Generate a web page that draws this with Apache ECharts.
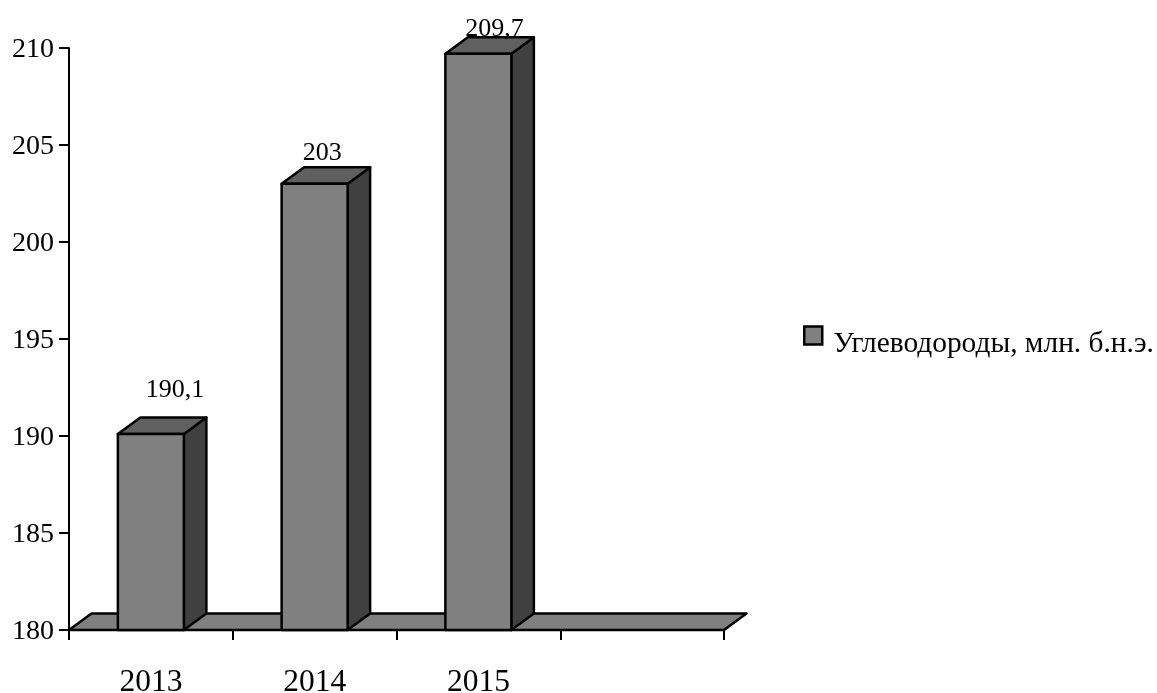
<!DOCTYPE html>
<html>
<head>
<meta charset="utf-8">
<style>html,body{margin:0;padding:0;background:#fff}#chart{width:1157px;height:693px}</style>
<script src="https://cdn.jsdelivr.net/npm/echarts@6/dist/echarts.min.js"></script>
</head>
<body>
<div id="chart"></div>
<script>
// Hydrocarbon output by year; the fourth category slot is intentionally empty.
const categories = ['2013', '2014', '2015', ''];
const seriesName = 'Углеводороды, млн. б.н.э.';
const values = [190.1, 203, 209.7];

const FONT = '"Liberation Serif", "Times New Roman", serif';
const DEPTH_X = 22.5, DEPTH_Y = 16.5;       // oblique projection of the 3D look
const BAR_WIDTH = 66;
const labelShift = [[24, -44], [7.5, -30.5], [16, -25]]; // value label offset from the bar's top centre

const FRONT = '#808080', TOP = '#606060', SIDE = '#404040';
const EDGE = { stroke: '#000', lineWidth: 2.5, lineJoin: 'round' };

function renderFloor(params, api) {
  const cs = params.coordSys;
  const y = api.coord([0, 180])[1];
  const l = cs.x, r = cs.x + cs.width;
  return {
    type: 'polygon',
    shape: { points: [[l, y], [l + DEPTH_X, y - DEPTH_Y], [r + DEPTH_X, y - DEPTH_Y], [r, y]] },
    style: Object.assign({ fill: FRONT }, EDGE)
  };
}

function renderBar(params, api) {
  const top = api.coord([api.value(0), api.value(1)]);
  const base = api.coord([api.value(0), 180]);
  const x0 = top[0] - BAR_WIDTH / 2, x1 = top[0] + BAR_WIDTH / 2;
  const yt = top[1], yb = base[1];
  const shift = labelShift[params.dataIndex];
  return {
    type: 'group',
    children: [
      { type: 'polygon',
        shape: { points: [[x1, yt], [x1 + DEPTH_X, yt - DEPTH_Y], [x1 + DEPTH_X, yb - DEPTH_Y], [x1, yb]] },
        style: Object.assign({ fill: SIDE }, EDGE) },
      { type: 'polygon',
        shape: { points: [[x0, yt], [x0 + DEPTH_X, yt - DEPTH_Y], [x1 + DEPTH_X, yt - DEPTH_Y], [x1, yt]] },
        style: Object.assign({ fill: TOP }, EDGE) },
      { type: 'rect',
        shape: { x: x0, y: yt, width: BAR_WIDTH, height: yb - yt },
        style: Object.assign({ fill: FRONT }, EDGE) },
      { type: 'text',
        x: top[0] + shift[0], y: yt + shift[1],
        style: {
          text: String(api.value(1)).replace('.', ','),
          font: '26px ' + FONT, fill: '#000',
          textAlign: 'center', textVerticalAlign: 'middle'
        } }
    ]
  };
}

const chart = echarts.init(document.getElementById('chart'), null, { renderer: 'canvas' });
chart.setOption({
  animation: false,
  backgroundColor: '#fff',
  grid: { left: 69, top: 48, width: 655, height: 582, containLabel: false, outerBoundsMode: 'none' },
  legend: {
    data: [seriesName],
    left: 798, top: 307,
    icon: 'rect', itemWidth: 18, itemHeight: 18, itemGap: 0,
    formatter: '{t|{name}}',
    textStyle: {
      fontFamily: FONT, fontSize: 29.4, color: '#000',
      rich: { t: { fontFamily: FONT, fontSize: 29.4, color: '#000', lineHeight: 29, padding: [18, 0, 0, 6] } }
    },
    itemStyle: { color: FRONT, borderColor: '#000', borderWidth: 2.5 }
  },
  xAxis: {
    type: 'category',
    data: categories,
    boundaryGap: true,
    axisLine: { lineStyle: { color: '#000', width: 2 } },
    axisTick: { show: true, alignWithLabel: false, length: 10, lineStyle: { color: '#000', width: 2 } },
    axisLabel: { margin: 37, fontFamily: FONT, fontSize: 31.5, color: '#000' },
    splitLine: { show: false }
  },
  yAxis: {
    type: 'value',
    min: 180, max: 210, interval: 5,
    axisLine: { show: true, lineStyle: { color: '#000', width: 2 } },
    axisTick: { show: true, length: 10, lineStyle: { color: '#000', width: 2 } },
    axisLabel: {
      margin: 15, color: '#000', formatter: '{v|{value}}',
      rich: { v: { fontFamily: FONT, fontSize: 28, color: '#000', padding: [3, 0, 0, 0] } }
    },
    splitLine: { show: false }
  },
  series: [
    { type: 'custom', silent: true, z: 2, renderItem: renderFloor, data: [[0, 180]],
      encode: { x: 0, y: 1 }, tooltip: { show: false } },
    { type: 'custom', name: seriesName, z: 3, renderItem: renderBar,
      itemStyle: { color: FRONT },
      data: values.map((v, i) => [i, v]),
      encode: { x: 0, y: 1 } }
  ]
});
</script>
</body>
</html>
